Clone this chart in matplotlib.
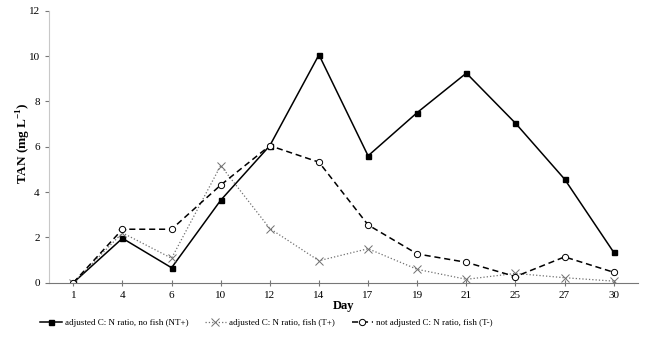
import matplotlib.pyplot as plt
import numpy as np

plt.rcParams['font.family'] = ['Liberation Serif', 'DejaVu Serif']
plt.rcParams['mathtext.fontset'] = 'custom'
plt.rcParams['mathtext.rm'] = 'Liberation Serif'
plt.rcParams['mathtext.bf'] = 'Liberation Serif:bold'

days = ['1', '4', '6', '10', '12', '14', '17', '19', '21', '25', '27', '30']
nt_plus = [0.0, 1.96, 0.66, 3.64, 6.05, 10.06, 5.6, 7.51, 9.25, 7.04, 4.57, 1.34]
t_plus = [0.0, 2.2, 1.08, 5.17, 2.39, 0.97, 1.5, 0.59, 0.15, 0.41, 0.22, 0.07]
t_minus = [0.0, 2.36, 2.36, 4.31, 6.05, 5.32, 2.55, 1.27, 0.9, 0.27, 1.14, 0.46]

x = np.arange(len(days))

fig = plt.figure(figsize=(6.5, 3.54), dpi=100)
ax = fig.add_axes([0.075, 0.2014, 0.907, 0.768])

ax.plot(x, nt_plus, color='black', lw=1.1, marker='s', ms=3.6,
        label='adjusted C: N ratio, no fish (NT+)')
ax.plot(x, t_plus, color='#707070', lw=0.9, ls=':', marker='x', ms=5.5, mew=0.7,
        label='adjusted C: N ratio, fish (T+)')
ax.plot(x, t_minus, color='black', lw=1.1, ls=(0, (4, 2.5)), marker='o', ms=4.5,
        mfc='white', mec='black', mew=0.7,
        label='not adjusted C: N ratio, fish (T-)')

ax.set_xlim(-0.5, 11.5)
ax.set_ylim(0, 12)
ax.set_xticks(x)
ax.set_xticklabels(days)
ax.set_yticks(range(0, 13, 2))

for s in ['top', 'right']:
    ax.spines[s].set_visible(False)
ax.spines['left'].set_color('#c8c8c8')
ax.spines['bottom'].set_color('#777777')
ax.tick_params(axis='both', labelsize=8, length=3, width=0.8, colors='#777777',
               labelcolor='black')
ax.tick_params(axis='x', direction='inout', length=5)

ax.set_xlabel('Day', fontsize=9, fontweight='bold', labelpad=0)
ax.set_ylabel('TAN (mg L$^{\\mathbf{-1}}$)', fontsize=9.5, fontweight='bold')
ax.yaxis.set_label_coords(-0.026, 0.514)

fig.legend(loc='center', bbox_to_anchor=(0.41, 0.088), ncol=3, frameon=False,
           fontsize=6.5, handlelength=2.4, columnspacing=1.8, handletextpad=0.35)

fig.savefig('out.png', dpi=100)
